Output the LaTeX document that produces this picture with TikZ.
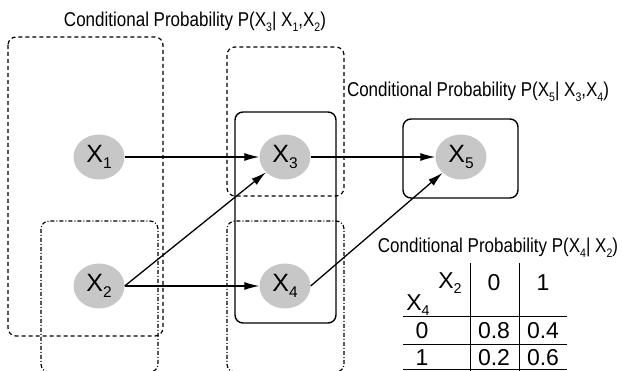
\documentclass[tikz,border=0pt]{standalone}
\usepackage{fontspec}
\setmainfont{Liberation Sans}
\newfontfamily\narrowfont[FakeStretch=0.85]{Liberation Sans}
\usetikzlibrary{arrows.meta,positioning,shapes}
\newcommand{\lowidx}[1]{\raisebox{-0.45ex}{\scalebox{0.62}{#1}}}

\begin{document}
\begin{tikzpicture}[x=1pt,y=-1pt]
		\tikzstyle{var} = [ellipse, fill=black!22, minimum width=51pt, minimum height=45pt, inner sep=0pt, font=\fontsize{25}{25}\selectfont]
		\tikzstyle{caption} = [inner sep=0pt, font=\narrowfont\fontsize{20}{20}\selectfont]
		\tikzstyle{cell} = [inner sep=0pt, font=\fontsize{23}{23}\selectfont]
		\tikzstyle{arrow} = [draw, line width=1.3pt, -{Latex[length=15pt,width=8pt]}]
		\tikzstyle{outer} = [line width=1.2pt, rounded corners=8pt, dash pattern=on 4pt off 3pt]
		\tikzstyle{inner} = [line width=1.2pt, rounded corners=8pt, dash pattern=on 4pt off 2pt on 1pt off 2pt]
		\tikzstyle{frame} = [line width=1.4pt, rounded corners=8pt]
		\useasboundingbox (0,0) rectangle (622,371);

		% groups
		\draw[outer] (8,37) rectangle (163,336);
		\draw[outer] (227,47) rectangle (344,196);
		\draw[inner] (41,221) rectangle (158,372);
		\draw[inner] (227,221) rectangle (344,372);
		\draw[frame] (235,112) rectangle (336,323);
		\draw[frame] (403,119) rectangle (518,198);

		\node [var] (x1) at (99,157) {X\lowidx{1}};
		\node [var] (x2) at (99,286) {X\lowidx{2}};
		\node [var] (x3) at (285,157) {X\lowidx{3}};
		\node [var] (x4) at (285,286) {X\lowidx{4}};
		\node [var] (x5) at (461,157) {X\lowidx{5}};

		\path[arrow] (x1) -- (x3);
		\path[arrow] (x2.east) -- (x3);
		\path[arrow] (x2) -- (x4);
		\path[arrow] (x3) -- (x5);
		\path[arrow] (x4.east) -- (x5);

		\node [caption] (cp3) at (195,22) {Conditional Probability P(X\lowidx{3}| X\lowidx{1},X\lowidx{2})};
		\node [caption] (cp5) at (478,92) {Conditional Probability P(X\lowidx{5}| X\lowidx{3},X\lowidx{4})};
		\node [caption] (cp4) at (498,248) {Conditional Probability P(X\lowidx{4}| X\lowidx{2})};

		% table
		\draw[line width=1pt] (470,263) -- (470,372);
		\draw[line width=1pt] (519,263) -- (519,372);
		\draw[line width=1pt] (403,317) -- (567,317);
		\draw[line width=1pt] (403,345) -- (567,345);
		\draw[line width=1pt] (403,370) -- (567,370);
		\node [cell] (hx2) at (450,283) {X\lowidx{2}};
		\node [cell] (hx4) at (418,305) {X\lowidx{4}};
		\node [cell] (c0) at (494,283) {0};
		\node [cell] (c1) at (543,283) {1};
		\node [cell] (r0) at (422,331) {0};
		\node [cell] (r1) at (422,358) {1};
		\node [cell] (v00) at (494,331) {0.8};
		\node [cell] (v01) at (543,331) {0.4};
		\node [cell] (v10) at (494,358) {0.2};
		\node [cell] (v11) at (543,358) {0.6};
	\end{tikzpicture}
\end{document}
